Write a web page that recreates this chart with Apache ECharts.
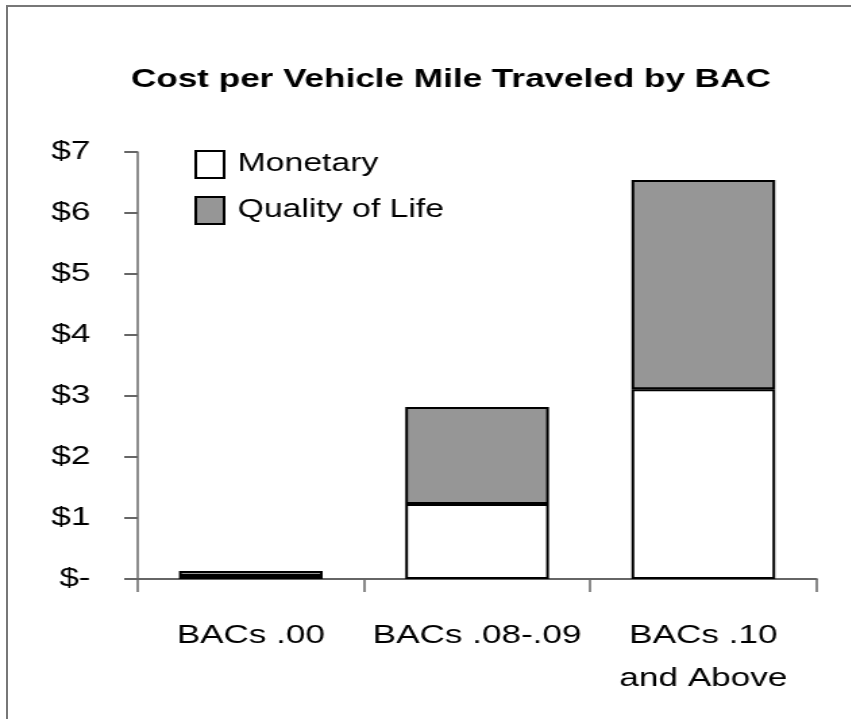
<!DOCTYPE html>
<html><head><meta charset="utf-8">
<script src="https://cdn.jsdelivr.net/npm/echarts@6/dist/echarts.min.js"></script>
<style>
html,body{margin:0;padding:0;background:#fff;width:851px;height:719px;overflow:hidden;}
#frame{position:absolute;left:6px;top:5px;width:845px;height:714px;border-top:2px solid #777;border-left:2px solid #777;box-sizing:border-box;}
#chart{position:absolute;left:0;top:0;width:630.4px;height:719px;transform:scaleX(1.35);transform-origin:0 0;}
</style></head><body><div id="frame"></div><div id="chart"></div>
<script>
const categories = ['BACs .00', 'BACs .08-.09', 'BACs .10\nand Above'];
const monetary = [0.05, 1.23, 3.11];
const qualityOfLife = [0.08, 1.59, 3.43];
const yTickLabels = ['$-', '$1', '$2', '$3', '$4', '$5', '$6', '$7'];
const seriesNames = ['Monetary', 'Quality of Life'];

const FONT = '"Liberation Sans", Arial, sans-serif';
const chart = echarts.init(document.getElementById('chart'), null, {renderer: 'canvas'});
chart.setOption({
  animation: false,
  title: {
    text: 'Cost per Vehicle Mile Traveled by BAC',
    left: 97, top: 65, padding: 0,
    textStyle: {fontFamily: FONT, fontSize: 26, fontWeight: 'bold', color: '#000', lineHeight: 30}
  },
  legend: {
    orient: 'vertical', left: 144, top: 150, padding: 0,
    itemWidth: 21, itemHeight: 27, itemGap: 17,
    icon: 'rect',
    textStyle: {fontFamily: FONT, fontSize: 25, color: '#000', padding: [0, 0, 0, 5]},
    data: seriesNames
  },
  grid: {left: 102, right: 25.2, top: 152, bottom: 140, containLabel: false},
  xAxis: {
    type: 'category', data: categories, boundaryGap: true,
    axisLine: {lineStyle: {color: '#666', width: 2}},
    axisTick: {show: true, alignWithLabel: false, length: 13, lineStyle: {color: '#666', width: 1.5}},
    axisLabel: {interval: 0, margin: 35, fontFamily: FONT, fontSize: 26, lineHeight: 43, color: '#000'}
  },
  yAxis: {
    type: 'value', min: 0, max: 7, interval: 1,
    splitLine: {show: false},
    axisLine: {show: true, lineStyle: {color: '#666', width: 1.5}},
    axisTick: {show: true, length: 10, lineStyle: {color: '#666', width: 2}},
    axisLabel: {margin: 35, fontFamily: FONT, fontSize: 26, color: '#000',
      formatter: function (v) { return yTickLabels[Math.round(v)]; }}
  },
  series: [
    {name: seriesNames[0], type: 'bar', stack: 'cost', data: monetary, barWidth: '63.5%',
     itemStyle: {color: '#ffffff', borderColor: '#000', borderWidth: 2}},
    {name: seriesNames[1], type: 'bar', stack: 'cost', data: qualityOfLife, barWidth: '63.5%',
     itemStyle: {color: '#969696', borderColor: '#000', borderWidth: 2}}
  ]
});
</script></body></html>
